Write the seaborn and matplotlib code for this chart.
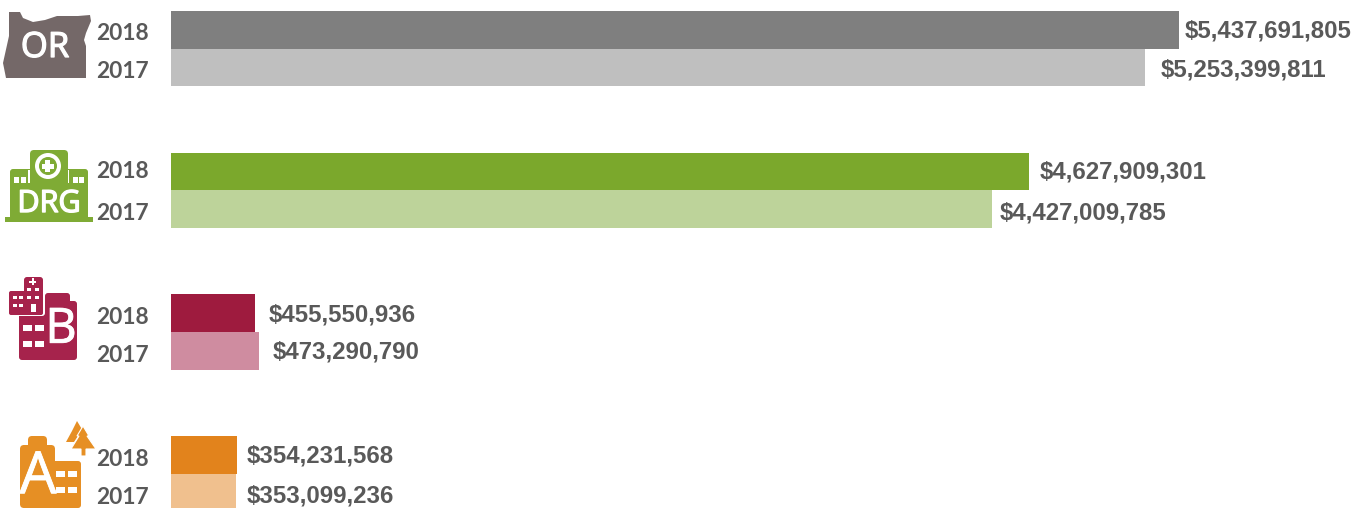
import matplotlib
matplotlib.use("Agg")
import matplotlib.pyplot as plt
import matplotlib.patheffects as pe
from matplotlib.patches import Circle, FancyBboxPatch, Polygon, Rectangle
import pandas as pd
import seaborn as sns

groups = ["OR", "DRG", "B", "A"]
years = ["2018", "2017"]
values_2018 = [5437691805, 4627909301, 455550936, 354231568]
values_2017 = [5253399811, 4427009785, 473290790, 353099236]
colors_2018 = ["#7f7f7f", "#7ba82c", "#9e1b3e", "#e2831c"]
colors_2017 = ["#bfbfbf", "#bdd39a", "#cf8ca0", "#f0c08e"]
icon_colors = ["#746868", "#7fab35", "#a6234c", "#e68f24"]

TEXT = "#595959"
W, H = 1361, 508

df = pd.DataFrame({
    "group": groups * 2,
    "year": ["2018"] * 4 + ["2017"] * 4,
    "value": values_2018 + values_2017,
})

sns.set_theme(style="white")
fig = plt.figure(figsize=(W / 100, H / 100), dpi=100)

# bars, axes starts at the bars' zero line
ax = fig.add_axes([171 / W, 0, (W - 171) / W, 1])
sns.barplot(data=df, y="group", x="value", hue="year", order=groups, hue_order=years,
            width=0.532, dodge=True, saturation=1, legend=False, linewidth=0, ax=ax)
px_per_dollar = 1008 / values_2018[0]
ax.set_xlim(0, (W - 171) / px_per_dollar)
ax.set_ylim(3.24, -0.342)
ax.set_axis_off()
for bar, c in zip(ax.containers[0], colors_2018):
    bar.set_facecolor(c)
for bar, c in zip(ax.containers[1], colors_2017):
    bar.set_facecolor(c)

# labels sit at slightly different gaps in the original
gaps_2018 = [6, 11, 13, 10]
gaps_2017 = [16, 8, 14, 10]
label_kw = dict(family="Liberation Sans", weight="bold", fontsize=17.3, color=TEXT, va="center")
for cont, vals, gaps, dy in [(ax.containers[0], values_2018, gaps_2018, [1, 1, 2, 1]),
                             (ax.containers[1], values_2017, gaps_2017, [3, 4, 1, 3])]:
    for bar, v, g, d in zip(cont, vals, gaps, dy):
        ax.annotate(f"${v:,}", (v, bar.get_y() + bar.get_height() / 2), xytext=(g * 0.72, -d * 0.72),
                    textcoords="offset points", **label_kw)

# overlay in pixel coordinates for year labels and icons
ov = fig.add_axes([0, 0, 1, 1])
ov.set_xlim(0, W)
ov.set_ylim(H, 0)
ov.set_axis_off()
ov.patch.set_alpha(0)

year_y = [33, 71, 172, 213, 317, 355, 459, 497]
for i, y in enumerate(year_y):
    ov.text(96, y, years[i % 2], family="Lato", weight="bold", fontsize=16.4, color=TEXT, va="center")


def box(x0, y0, x1, y1, c, r=2):
    ov.add_patch(FancyBboxPatch((x0 + r, y0 + r), x1 - x0 - 2 * r, y1 - y0 - 2 * r,
                                boxstyle=f"round,pad={r},rounding_size={r}", fc=c, ec="none"))


def rect(x0, y0, x1, y1, c="white"):
    ov.add_patch(Rectangle((x0, y0), x1 - x0, y1 - y0, fc=c, ec="none"))


def icon_text(x, y, s, size, stroke=0.9):
    ov.text(x, y, s, family="Open Sans", fontsize=size, color="white", ha="center", va="center",
            path_effects=[pe.withStroke(linewidth=stroke, foreground="white")])


# OR icon
ov.add_patch(Polygon([(9, 12), (20, 12), (23, 18), (33, 22), (45, 20), (57, 16), (78, 16), (90, 15),
                      (91, 21), (86, 33), (84, 40), (86, 46), (86, 78), (6, 78), (3, 63), (9, 36)],
                     fc=icon_colors[0], ec="none"))
icon_text(45, 48, "OR", 25)

# DRG icon
c = icon_colors[1]
rect(5, 217, 93, 222, c)
box(10, 169, 88, 221, c, 3)
box(30, 150, 68, 190, c, 4)
rect(28.5, 170, 30, 183)
rect(68, 170, 69.5, 183)
ov.add_patch(Circle((48, 166), 13, fc="white", ec="none"))
ov.add_patch(Circle((48, 166), 9, fc=c, ec="none"))
rect(45.5, 160, 50.5, 172)
rect(42, 163.5, 54, 168.5)
for x0 in [14, 21, 73, 79]:
    rect(x0, 177, x0 + 5, 183)
icon_text(49, 204, "DRG", 22, 1.0)

# B icon
c = icon_colors[2]
box(19, 301, 77, 360, c, 3)
box(45, 293, 70, 310, c, 3)
box(8, 289, 45, 316, "white", 3)
box(9, 291, 43, 315, c, 2)
box(24, 277, 43, 295, c, 3)
for x0, y0 in [(13, 296), (19, 296), (27, 296), (35, 296), (13, 304), (19, 304), (27, 288), (35, 288)]:
    rect(x0, y0, x0 + 4, y0 + 3)
rect(31, 304, 36, 312)
rect(32, 278, 34, 285)
rect(29.5, 280.5, 36.5, 282.5)
for x0, y0 in [(23, 325), (35, 325), (23, 341), (35, 341)]:
    rect(x0, y0, x0 + 9, y0 + 6)
icon_text(61, 330, "B", 35, 0.6)

# A icon
c = icon_colors[3]
box(20, 445, 55, 508, c, 4)
box(28, 436, 47, 452, c, 4)
box(50, 461, 81, 508, c, 3)
for x0, y0 in [(56, 471), (68, 471), (56, 487), (68, 487)]:
    rect(x0, y0, x0 + 9, y0 + 6)
icon_text(38, 478, "A", 42, 0.6)
ov.add_patch(Polygon([(77, 421), (83, 431), (80, 433), (74, 442), (66, 442), (72, 431)], fc=c, ec="none"))
ov.add_patch(Polygon([(83, 426), (89, 436), (87, 436), (96, 449), (86, 449), (86, 456), (81, 456),
                      (81, 449), (71, 449), (79, 436), (77, 436)], fc=c, ec="white", lw=0.8))

fig.savefig("out.png", dpi=100, facecolor="white")
